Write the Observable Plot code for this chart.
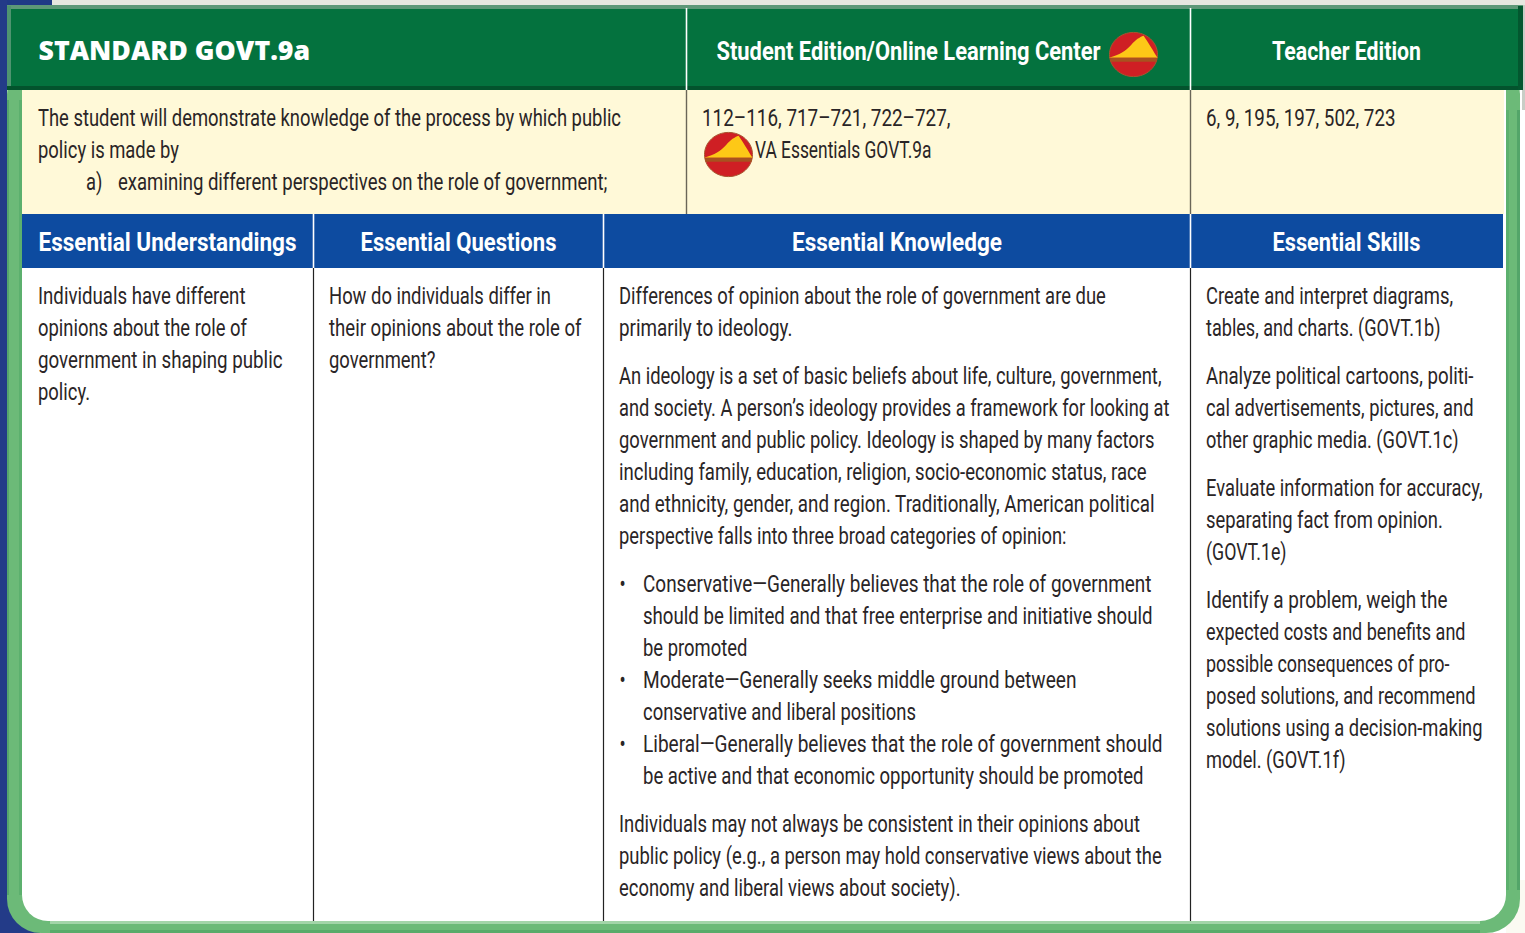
<!DOCTYPE html>
<html><head><meta charset="utf-8">
<script src="https://cdn.jsdelivr.net/npm/d3@7"></script>
<script src="https://cdn.jsdelivr.net/npm/@observablehq/plot@0.6"></script>
<style>html,body{margin:0;padding:0;background:#fff}svg{display:block}</style>
</head><body><div id="chart"></div>
<script>
// ---- content ----
const titleText = "STANDARD GOVT.9a";
const topHeaders = ["Student Edition/Online Learning Center", "Teacher Edition"];
const columnHeaders = ["Essential Understandings", "Essential Questions", "Essential Knowledge", "Essential Skills"];
const standardLines = ["The student will demonstrate knowledge of the process by which public", "policy is made by"];
const standardItem = ["a)", "examining different perspectives on the role of government;"];
const studentPages = ["112–116, 717–721, 722–727,"];
const studentVa = ["VA Essentials GOVT.9a"];
const teacherPages = ["6, 9, 195, 197, 502, 723"];
const understandings = [["Individuals have different", "opinions about the role of", "government in shaping public", "policy."]];
const questions = [["How do individuals differ in", "their opinions about the role of", "government?"]];
const knowledgeIntro = [
  ["Differences of opinion about the role of government are due", "primarily to ideology."],
  ["An ideology is a set of basic beliefs about life, culture, government,", "and society. A person’s ideology provides a framework for looking at", "government and public policy. Ideology is shaped by many factors", "including family, education, religion, socio-economic status, race", "and ethnicity, gender, and region. Traditionally, American political", "perspective falls into three broad categories of opinion:"]
];
const knowledgeBullets = [
  ["Conservative—Generally believes that the role of government", "should be limited and that free enterprise and initiative should", "be promoted"],
  ["Moderate—Generally seeks middle ground between", "conservative and liberal positions"],
  ["Liberal—Generally believes that the role of government should", "be active and that economic opportunity should be promoted"]
];
const knowledgeOutro = [["Individuals may not always be consistent in their opinions about", "public policy (e.g., a person may hold conservative views about the", "economy and liberal views about society)."]];
const skills = [
  ["Create and interpret diagrams,", "tables, and charts. (GOVT.1b)"],
  ["Analyze political cartoons, politi-", "cal advertisements, pictures, and", "other graphic media. (GOVT.1c)"],
  ["Evaluate information for accuracy,", "separating fact from opinion.", "(GOVT.1e)"],
  ["Identify a problem, weigh the", "expected costs and benefits and", "possible consequences of pro-", "posed solutions, and recommend", "solutions using a decision-making", "model. (GOVT.1f)"]
];

// ---- layout (page grid) ----
const W = 1525, H = 933;
const lineStep = 32, gap = 16;
const colA = 313, colB = 603, colC = 686, colD = 1190;
const xs = {left: 37.5, q: 328.5, k: 618.5, kb: 642.5, student: 701.5, s: 1205.5};
function flow(paragraphs, x, y0) {
  const out = [];
  let y = y0;
  for (const p of paragraphs) {
    for (const text of p) { out.push({text, x, y}); y += lineStep; }
    y += gap;
  }
  return {rows: out, end: y};
}
const bodyTop = 303;
const creamTop = 125;
const intro = flow(knowledgeIntro, xs.k, bodyTop);
const bullets = flow([knowledgeBullets.flat()], xs.kb, intro.end);
const outro = flow(knowledgeOutro, xs.k, bullets.end);
let by = intro.end;
const bulletRows = knowledgeBullets.map(p => { const r = {text: "•", x: 619, y: by}; by += p.length * lineStep; return r; });
const bodyRows = [
  ...flow(understandings, xs.left, bodyTop).rows,
  ...flow(questions, xs.q, bodyTop).rows,
  ...intro.rows, ...bullets.rows, ...outro.rows,
  ...flow(skills, xs.s, bodyTop).rows,
  ...flow([standardLines], xs.left, creamTop).rows,
  {text: standardItem[0], x: 85.5, y: creamTop + 2 * lineStep},
  {text: standardItem[1], x: 117.5, y: creamTop + 2 * lineStep},
  ...flow([studentPages], xs.student, creamTop).rows,
  {text: studentVa[0], x: 754.5, y: creamTop + lineStep},
  ...flow([teacherPages], xs.s, creamTop).rows
];
const headerStart = [
  {text: topHeaders[0], x: 716, y: 59},
  {text: columnHeaders[0], x: 38, y: 250.5}
];
const headerMiddle = [
  {text: topHeaders[1], x: 1346, y: 59},
  {text: columnHeaders[1], x: 458, y: 250.5},
  {text: columnHeaders[2], x: 896.5, y: 250.5},
  {text: columnHeaders[3], x: 1346, y: 250.5}
];
// where each start-anchored line ends in the original (page pixels, lines that need it)
const lineEnds = new Map([
  [knowledgeIntro[0][1], 792], [knowledgeIntro[1][0], 1161], [knowledgeIntro[1][1], 1169], [knowledgeIntro[1][2], 1154],
  [knowledgeIntro[1][3], 1146], [knowledgeIntro[1][4], 1154], [knowledgeIntro[1][5], 1066],
  [knowledgeBullets[0][0], 1151], [knowledgeBullets[0][1], 1152], [knowledgeBullets[1][0], 1076],
  [knowledgeBullets[2][0], 1162], [knowledgeBullets[2][1], 1143],
  [skills[0][1], 1440], [skills[1][0], 1473], [skills[1][1], 1473], [skills[1][2], 1458], [skills[2][0], 1482],
  [skills[2][2], 1286], [skills[3][0], 1447], [skills[3][1], 1465], [skills[3][2], 1449], [skills[3][3], 1475],
  [skills[3][4], 1482], [skills[3][5], 1345],
  [understandings[0][0], 245], [understandings[0][2], 282], [questions[0][1], 581],
  [standardItem[1], 607], [studentPages[0], 950], [studentVa[0], 931], [teacherPages[0], 1395],
  [topHeaders[0], 1100]
]);
// widths of the centred headers in the original
const headerWidths = new Map([[topHeaders[1], 149], [columnHeaders[1], 196], [columnHeaders[2], 210], [columnHeaders[3], 148]]);

const R = (x1, x2, y1, y2, fill) => ({x1, x2, y1, y2, fill});
const backdrop = [
  R(0, W, 0, H, "#ffffff"),
  R(52, W, 0, 5, "#e6e7e0"),
  R(1522, W, 5, 110, "#c9cdc6"),
  R(0, 52, 0, 5, "#1f3a86"),
  R(0, 7, 0, H, "#233b88"),
  R(0, 40, 890, H, "#233b88"),
  R(1506, W, 880, H, "#fbfaf2")
];
const frameShades = [
  R(7, 9, 100, 895, "#55a56c"), R(19, 22, 100, 895, "#5cb06e"),
  R(1506, 1509, 110, 890, "#5cb06e"), R(1517, 1520, 110, 890, "#53a569"),
  R(50, 1480, 921, 924, "#a3d5a9"), R(50, 1480, 930, 933, "#58ab6a")
];
const bands = [
  R(22, 1506, 90, 500, "#ffffff"),
  R(22, 1504, 90, 214, "#fff9d8"),
  R(22, 1503, 214, 268, "#0d4ba0"),
  R(7, 1523, 6, 90, "#04723e"),
  R(7, 1523, 5, 9, "#5d9878"),
  R(7, 11, 6, 86, "#4f9470"),
  R(7, 1523, 86, 90, "#03532d"),
  R(1518, 1523, 6, 90, "#03572f")
];
const V = (x, y1, y2, stroke, w) => ({x, y1, y2, stroke, w});
const rules = [
  V(colC, 8, 90, "#ffffff", 1.6), V(colD, 8, 90, "#ffffff", 1.6),
  V(colC, 90, 214, "#6a6658", 1.4), V(colD, 90, 214, "#6a6658", 1.4),
  V(colA, 214, 268, "#ffffff", 1.6), V(colB, 214, 268, "#ffffff", 1.6), V(colD, 214, 268, "#ffffff", 1.6),
  V(colA, 268, 921, "#222222", 1.2), V(colB, 268, 921, "#222222", 1.2), V(colD, 268, 921, "#222222", 1.2)
];
const iconSpots = [{x: 1133, y: 54}, {x: 728, y: 154}];
// icon glyphs as d3-symbol style shapes
const K = 0.5523;
const disc = {draw(c, s) { const r = Math.sqrt(s / Math.PI) , a = r, b = r * 0.92;
  c.moveTo(a, 0);
  c.bezierCurveTo(a, K * b, K * a, b, 0, b);
  c.bezierCurveTo(-K * a, b, -a, K * b, -a, 0);
  c.bezierCurveTo(-a, -K * b, -K * a, -b, 0, -b);
  c.bezierCurveTo(K * a, -b, a, -K * b, a, 0);
  c.closePath(); }};
const hill = {draw(c, s) { const r = Math.sqrt(s / Math.PI);
  c.moveTo(-r * 1.02, r * 0.14); c.bezierCurveTo(-r * 0.55, -r * 0.02, -r * 0.35, -r * 0.12, -r * 0.1, -r * 0.4);
  c.bezierCurveTo(r * 0.1, -r * 0.62, r * 0.25, -r * 0.72, r * 0.42, -r * 0.78);
  c.bezierCurveTo(r * 0.62, -r * 0.5, r * 0.85, -r * 0.1, r * 1.0, r * 0.14); c.closePath(); }};
const belt = {draw(c, s) { const r = Math.sqrt(s / Math.PI); c.rect(-r * 0.96, r * 0.14, r * 1.92, r * 0.16); }};

const box = (data, extra = {}) => Plot.rect(data, {x1: "x1", x2: "x2", y1: "y1", y2: "y2", fill: d => d.fill, ...extra});
const face = "Roboto";
const chart = Plot.plot({
  width: W, height: H, margin: 0,
  x: {domain: [0, W], range: [0, W], axis: null},
  y: {domain: [0, H], range: [0, H], axis: null},
  color: {type: "identity"},
  marks: [
    box(backdrop),
    box([R(7, 1520, 60, 933, "#6cba78")], {rx: 34}),
    box([R(22, 1506, 120, 921, "#ffffff")], {rx: 26}),
    box(frameShades),
    box(bands),
    ...rules.map(r => Plot.ruleX([r], {x: "x", y1: "y1", y2: "y2", stroke: r.stroke, strokeWidth: r.w})),
    Plot.text([titleText], {x: 38, y: 59, text: d => d, textAnchor: "start", lineAnchor: "bottom", fontFamily: "Open Sans", fontWeight: 800, fontSize: 26.7, fill: "#ffffff"}),
    Plot.text(headerStart, {x: "x", y: "y", text: "text", textAnchor: "start", lineAnchor: "bottom", fontFamily: face, fontWeight: 700, fontSize: 25, fill: "#ffffff"}),
    Plot.text(headerMiddle, {x: "x", y: "y", text: "text", textAnchor: "middle", lineAnchor: "bottom", fontFamily: face, fontWeight: 700, fontSize: 25, fill: "#ffffff"}),
    Plot.text(bodyRows.concat(bulletRows), {x: "x", y: "y", text: "text", textAnchor: "start", lineAnchor: "bottom", fontFamily: face, fontSize: 24, fill: "#2a2526"}),
    Plot.dot(iconSpots, {x: "x", y: "y", r: 24, symbol: disc, fill: "#cf1f24", stroke: "#a8552f", strokeWidth: 1}),
    Plot.dot(iconSpots, {x: "x", y: "y", r: 24, symbol: hill, fill: "#fdc817"}),
    Plot.dot(iconSpots, {x: "x", y: "y", r: 24, symbol: belt, fill: "#a8521f"})
  ]
});
document.getElementById("chart").append(chart);
// Condensed face: squeeze every line horizontally. Default is one constant per style,
// derived from how wide one reference line is; lines with a known end use that instead.
const all = [...chart.querySelectorAll("text")];
const measured = s => all.find(t => t.textContent === s).getComputedTextLength();
const bodySqueeze = 583 / measured(standardLines[0]);
const headSqueeze = 258 / measured(columnHeaders[0]);
const allRows = [...bodyRows, ...headerStart];
all.forEach(t => {
  const cs = getComputedStyle(t);
  if (!cs.fontFamily.includes(face)) return;
  const text = t.textContent;
  let target = t.getComputedTextLength() * (+cs.fontWeight >= 600 ? headSqueeze : bodySqueeze);
  if (headerWidths.has(text)) target = headerWidths.get(text);
  if (lineEnds.has(text)) target = lineEnds.get(text) - allRows.find(r => r.text === text).x;
  t.setAttribute("lengthAdjust", "spacingAndGlyphs");
  t.setAttribute("textLength", target.toFixed(1));
});
</script></body></html>
